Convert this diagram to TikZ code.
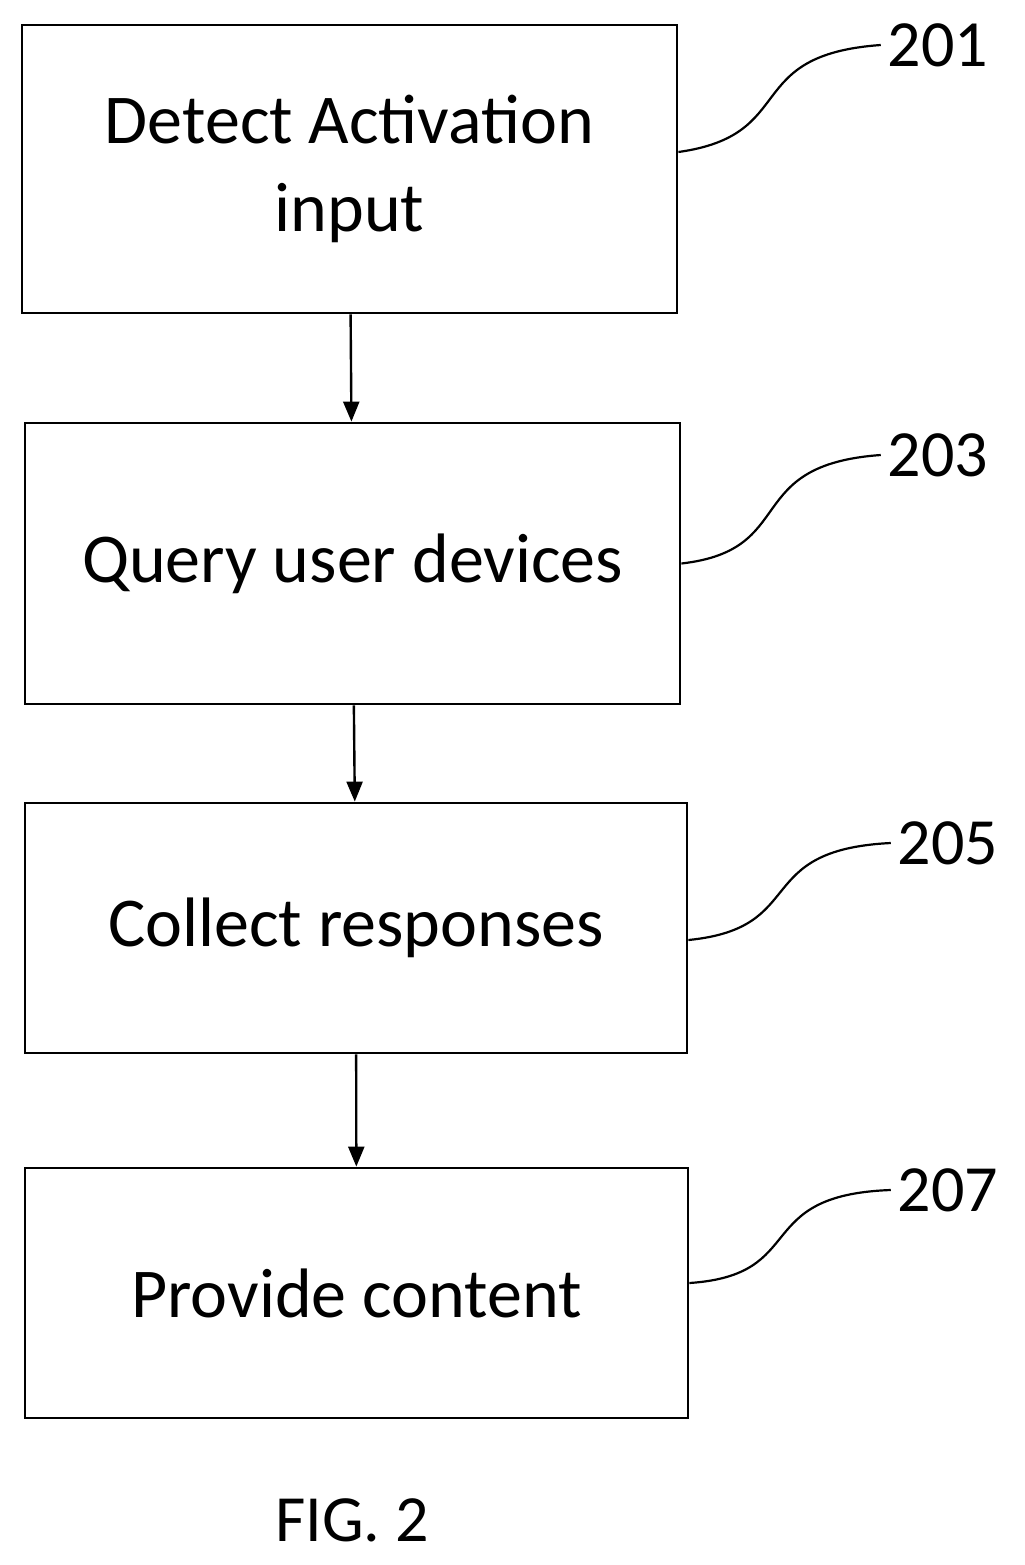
\documentclass[tikz,border=0pt]{standalone}
\usepackage{fontspec}
\setmainfont{Carlito}
\usetikzlibrary{arrows.meta}
\begin{document}
\begin{tikzpicture}[x=0.5pt,y=-0.5pt]

    \tikzset{paso/.style = {shape=rectangle,draw,line width=1.4pt,inner sep=0pt,font=\fontsize{35}{44}\selectfont,align=center}}
    \tikzset{etiqueta/.style = {font=\fontsize{33}{38}\selectfont}}
    \tikzset{flecha/.style = {-{Triangle[length=10pt,width=8pt]},line width=1.2pt}}
    \tikzset{guia/.style = {line width=1.1pt}}

    \useasboundingbox (0,0) rectangle (1024,1565);

    \node [paso,minimum width=327.5pt,minimum height=144pt] (detect) at (349.5,169) {Detect Activation\\input};
    \node [paso,minimum width=327.5pt,minimum height=140.5pt] (query) at (352.5,563.5) {Query user devices};
    \node [paso,minimum width=331pt,minimum height=125pt] (collect) at (356,928) {Collect responses};
    \node [paso,minimum width=331.5pt,minimum height=125pt] (provide) at (356.5,1293) {Provide content};

    \draw [flecha] (detect) -- (query);
    \draw [flecha] (query) -- (collect);
    \draw [flecha] (collect) -- (provide);

    %reference numerals
    \node [etiqueta] (n201) at (938,45) {201};
    \node [etiqueta] (n203) at (938,455) {203};
    \node [etiqueta] (n205) at (948,843) {205};
    \node [etiqueta] (n207) at (948,1190) {207};

    \draw [guia] (detect.east) ++(0,-17) .. controls (800,135) and (740,55) .. (n201.west);
    \draw [guia] (query.east) .. controls (800,550) and (740,465) .. (n203.west);
    \draw [guia] (collect.east) ++(0,12) .. controls (810,928) and (750,850) .. (n205.west);
    \draw [guia] (provide.east) ++(0,-10) .. controls (810,1275) and (750,1195) .. (n207.west);

    \node [etiqueta] (fig) at (352,1520) {FIG. 2};

\end{tikzpicture}
\end{document}
